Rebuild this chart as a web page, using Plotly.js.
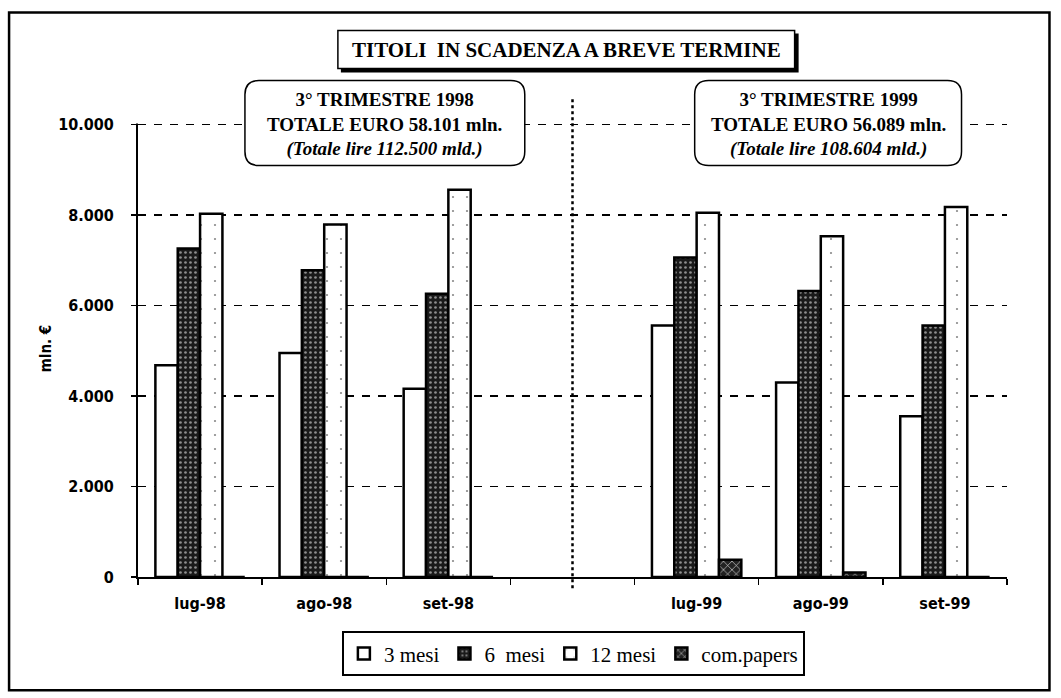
<!DOCTYPE html>
<html>
<head>
<meta charset="utf-8">
<script src="https://cdn.plot.ly/plotly-3.0.1.min.js"></script>
<style>
html,body{margin:0;padding:0;background:#fff;}
#chart{width:1061px;height:698px;}
</style>
</head>
<body>
<div id="chart"></div>
<script>
// ---- data ----
const categories = ['lug-98', 'ago-98', 'set-98', ' ', 'lug-99', 'ago-99', 'set-99'];
const seriesNames = ['3 mesi', '6\u00a0 mesi', '12 mesi', 'com.papers'];
const mesi3  = [4680, 4950, 4160, null, 5560, 4300, 3550];
const mesi6  = [7260, 6780, 6260, null, 7060, 6320, 5560];
const mesi12 = [8030, 7790, 8560, null, 8050, 7530, 8180];
const compap = [0, 0, 0, null, 380, 100, 0];
const yTicks = [0, 2000, 4000, 6000, 8000, 10000];
const yMax = 10100;
const chartTitle = 'TITOLI\u00a0 IN SCADENZA A BREVE TERMINE';
const box1Text = '<b>3° TRIMESTRE 1998<br>TOTALE EURO 58.101 mln.<br><i>(Totale lire 112.500 mld.)</i></b>';
const box2Text = '<b>3° TRIMESTRE 1999<br>TOTALE EURO 56.089 mln.<br><i>(Totale lire 108.604 mld.)</i></b>';
const separatorCategory = ' ';

// ---- geometry helpers (page pixels -> paper) ----
const W = 1061, H = 698;
const M = {l: 138, r: 53.5, t: 119.5, b: 121.3};
const PW = W - M.l - M.r, PH = H - M.t - M.b;
const px = x => (x - M.l) / PW;
const py = y => (H - M.b - y) / PH;
function rect(x0, y0, x1, y1, opts) {
  return Object.assign({type: 'rect', xref: 'paper', yref: 'paper',
    x0: px(x0), x1: px(x1), y0: py(y1), y1: py(y0), layer: 'above'}, opts);
}
function roundRect(x0, y0, x1, y1, r, opts) {
  const X = v => px(v).toFixed(5), Y = v => py(v).toFixed(5);
  const p = 'M' + X(x0 + r) + ',' + Y(y0) +
    ' L' + X(x1 - r) + ',' + Y(y0) +
    ' Q' + X(x1) + ',' + Y(y0) + ' ' + X(x1) + ',' + Y(y0 + r) +
    ' L' + X(x1) + ',' + Y(y1 - r) +
    ' Q' + X(x1) + ',' + Y(y1) + ' ' + X(x1 - r) + ',' + Y(y1) +
    ' L' + X(x0 + r) + ',' + Y(y1) +
    ' Q' + X(x0) + ',' + Y(y1) + ' ' + X(x0) + ',' + Y(y1 - r) +
    ' L' + X(x0) + ',' + Y(y0 + r) +
    ' Q' + X(x0) + ',' + Y(y0) + ' ' + X(x0 + r) + ',' + Y(y0) + ' Z';
  return Object.assign({type: 'path', xref: 'paper', yref: 'paper', path: p, layer: 'above'}, opts);
}

const lineStyle = {color: '#000', width: 2.5};
const traces = [
  {name: seriesNames[0], type: 'bar', x: categories, y: mesi3,
   marker: {color: '#ffffff', line: lineStyle}},
  {name: seriesNames[1], type: 'bar', x: categories, y: mesi6,
   marker: {color: '#2b2b2b', line: lineStyle,
     pattern: {shape: '.', bgcolor: '#1a1a1a', fgcolor: '#8f8f8f', size: 5, solidity: 0.22, fillmode: 'replace'}}},
  {name: seriesNames[2], type: 'bar', x: categories, y: mesi12,
   marker: {color: '#ffffff', line: lineStyle,
     pattern: {shape: '.', bgcolor: '#ffffff', fgcolor: '#8a8a8a', size: 14, solidity: 0.02, fillmode: 'replace'}}},
  {name: seriesNames[3], type: 'bar', x: categories, y: compap,
   marker: {color: '#222', line: lineStyle,
     pattern: {shape: 'x', bgcolor: '#222222', fgcolor: '#dddddd', size: 6, solidity: 0.2, fillmode: 'replace'}}}
];

const sansNarrow = '"Liberation Sans Narrow", "DejaVu Sans Condensed", "Liberation Sans", sans-serif';
const serif = '"Liberation Serif", "DejaVu Serif", serif';

const layout = {
  width: W, height: H,
  margin: M,
  paper_bgcolor: '#fff', plot_bgcolor: '#fff',
  separators: ',.',
  barmode: 'group', bargap: 0.28, bargroupgap: 0,
  showlegend: true,
  legend: {
    orientation: 'h', x: px(342), y: py(631), xanchor: 'left', yanchor: 'top',
    bordercolor: '#000', borderwidth: 2, bgcolor: '#fff',
    font: {family: serif, size: 21, color: '#000'},
    itemwidth: 30, tracegroupgap: 0, traceorder: 'normal'
  },
  xaxis: {
    type: 'category', categoryorder: 'array', categoryarray: categories,
    showline: true, linecolor: '#000', linewidth: 2,
    ticks: 'outside', tickson: 'boundaries', ticklen: 6, tickcolor: '#000', tickwidth: 1.5,
    tickfont: {family: sansNarrow, size: 16, color: '#000', weight: 'bold'},
    showgrid: false, fixedrange: true, ticklabelstandoff: 11
  },
  yaxis: {
    range: [0, yMax], tickvals: yTicks, tickformat: ',d',
    showline: true, linecolor: '#000', linewidth: 2,
    ticks: 'outside', ticklen: 5, tickcolor: '#000', tickwidth: 1.5,
    tickfont: {family: sansNarrow, size: 16, color: '#000', weight: 'bold'},
    ticklabelstandoff: 14,
    showgrid: true, gridcolor: '#000', gridwidth: 1.8, griddash: '8px,8px',
    zeroline: false, fixedrange: true,
    title: {text: 'mln. €', font: {family: sansNarrow, size: 15, color: '#000', weight: 'bold'}, standoff: 3}
  },
  shapes: [
    // outer frame
    rect(9, 12, 1050, 690, {line: {color: '#000', width: 2.5}, fillcolor: 'rgba(0,0,0,0)', layer: 'below'}),
    // cover the axis line above the top tick
    rect(130, 110, 146, 123, {fillcolor: '#fff', line: {width: 0}}),
    // separator between years
    {type: 'line', xref: 'x', yref: 'paper', x0: separatorCategory, x1: separatorCategory,
     y0: py(588), y1: py(96), line: {color: '#000', width: 2.5, dash: 'dot'}, layer: 'above'},
    // title box with shadow
    rect(341, 33, 799, 72, {fillcolor: '#000', line: {width: 0}}),
    rect(338, 30, 795, 68, {fillcolor: '#fff', line: {color: '#000', width: 1.5}}),
    // period boxes
    roundRect(245, 80, 525, 165, 14, {fillcolor: '#fff', line: {color: '#000', width: 1.5}}),
    roundRect(695, 80, 962, 165, 14, {fillcolor: '#fff', line: {color: '#000', width: 1.5}})
  ],
  annotations: [
    {xref: 'paper', yref: 'paper', x: px(566.5), y: py(49), text: '<b>' + chartTitle + '</b>',
     showarrow: false, font: {family: serif, size: 21, color: '#000'}, xanchor: 'center', yanchor: 'middle'},
    {xref: 'paper', yref: 'paper', x: px(385), y: py(124), text: box1Text,
     showarrow: false, font: {family: serif, size: 19, color: '#000'}, xanchor: 'center', yanchor: 'middle'},
    {xref: 'paper', yref: 'paper', x: px(828.5), y: py(124), text: box2Text,
     showarrow: false, font: {family: serif, size: 19, color: '#000'}, xanchor: 'center', yanchor: 'middle'}
  ]
};

Plotly.newPlot('chart', traces, layout, {displayModeBar: false, staticPlot: true});
</script>
</body>
</html>
